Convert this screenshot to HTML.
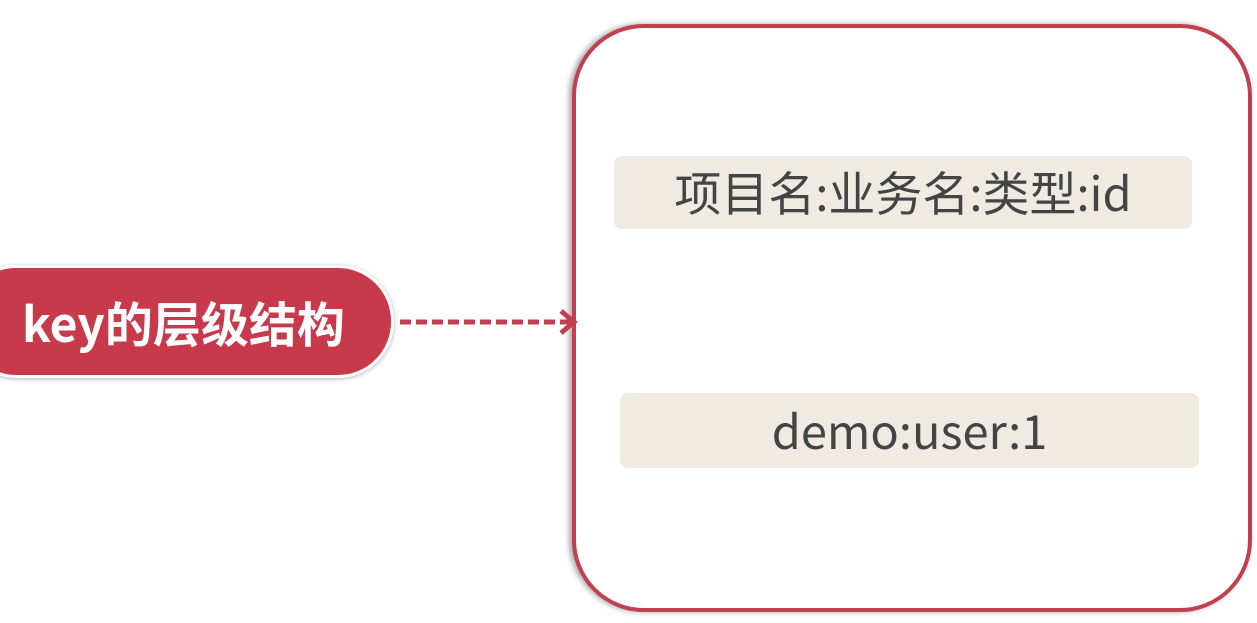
<!DOCTYPE html>
<html><head><meta charset="utf-8"><style>
body{margin:0;width:1257px;height:623px;background:#fff;position:relative;overflow:hidden;font-family:"Liberation Sans","Noto Sans CJK SC",sans-serif}
.big{position:absolute;left:572px;top:24px;width:672px;height:580px;border:4px solid #c0404f;border-radius:72px;box-shadow:-3px 0 6px rgba(0,0,0,.35);background:#fff}
.lab{position:absolute;background:#efebe3;border-radius:8px;color:#444;font-size:47px;text-align:center;font-family:"Noto Sans CJK SC","Liberation Sans",sans-serif;white-space:nowrap}
.pill{position:absolute;left:-40px;top:265px;width:434px;height:113px;background:#c8394b;border-radius:56px;border:3px solid #fff;box-shadow:0 1px 5px rgba(0,0,0,.3);color:#fff;font-weight:bold;font-size:48px;line-height:106px;box-sizing:border-box;padding-left:59px;font-family:"Noto Sans CJK SC","Liberation Sans",sans-serif;white-space:nowrap}
</style></head><body>
<div class="big"></div>
<div class="lab" style="left:614px;top:156px;width:578px;height:73px;line-height:70px">项目名:业务名:类型:id</div>
<div class="lab" style="left:620px;top:393px;width:579px;height:75px;line-height:72px">demo:user:1</div>
<div class="pill">key的层级结构</div>
<svg style="position:absolute;left:0;top:0" width="1257" height="623">
<line x1="400" y1="322" x2="572" y2="322" stroke="#c0404f" stroke-width="5" stroke-dasharray="11,5"/>
<polyline points="561,311 574,322 561,333" fill="none" stroke="#c0404f" stroke-width="5"/>
</svg>
</body></html>
